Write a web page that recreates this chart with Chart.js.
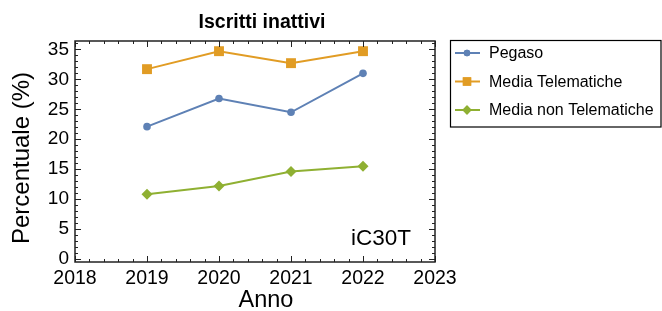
<!DOCTYPE html>
<html>
<head>
<meta charset="utf-8">
<script src="https://cdn.jsdelivr.net/npm/chart.js@4.4.0/dist/chart.umd.min.js"></script>
<style>
  html, body { margin: 0; padding: 0; background: #fff; }
  #wrap { width: 662px; height: 311px; }
</style>
</head>
<body>
<div id="wrap"><canvas id="chart" width="662" height="311"></canvas></div>
<script>
// data
const years = [2019, 2020, 2021, 2022];
const pegaso = [22.1, 26.8, 24.5, 31.0];
const mediaTelematiche = [31.7, 34.7, 32.7, 34.7];
const mediaNonTelematiche = [10.8, 12.2, 14.6, 15.5];
const xTicks = [2018, 2019, 2020, 2021, 2022, 2023];
const yTicks = [0, 5, 10, 15, 20, 25, 30, 35];

const FONT = "'Liberation Sans', Arial, sans-serif";

function points(vals) {
    return years.map((y, i) => ({ x: y, y: vals[i] }));
}

// frame with inward ticks, titles, legend box
const framePlugin = {
    id: 'frame',
    afterDraw(chart) {
        const ctx = chart.ctx;
        const a = chart.chartArea;
        const xs = chart.scales.x, ys = chart.scales.y;
        ctx.save();
        ctx.strokeStyle = '#222';
        ctx.lineWidth = 1;

        // minor + major ticks on x (top and bottom)
        for (let v = 2018; v <= 2023.001; v += 0.2) {
            const px = Math.round(xs.getPixelForValue(v)) + 0.5;
            const major = Math.abs(v - Math.round(v)) < 0.01;
            const len = major ? 6 : 3;
            ctx.beginPath();
            ctx.moveTo(px, a.bottom); ctx.lineTo(px, a.bottom - len);
            ctx.moveTo(px, a.top); ctx.lineTo(px, a.top + len);
            ctx.stroke();
        }
        // minor + major ticks on y (left and right)
        for (let v = 0; v <= 36; v += 1) {
            const py = Math.round(ys.getPixelForValue(v)) + 0.5;
            const major = v % 5 === 0;
            const len = major ? 6 : 3;
            ctx.beginPath();
            ctx.moveTo(a.left, py); ctx.lineTo(a.left + len, py);
            ctx.moveTo(a.right, py); ctx.lineTo(a.right - len, py);
            ctx.stroke();
        }
        // frame
        ctx.lineWidth = 1.5;
        ctx.strokeRect(a.left, a.top, a.right - a.left, a.bottom - a.top);

        // texts
        ctx.fillStyle = '#000';
        ctx.textAlign = 'center';
        ctx.textBaseline = 'middle';
        ctx.font = 'bold 19.5px ' + FONT;
        ctx.fillText('Iscritti inattivi', 262, 23);

        ctx.font = '23.5px ' + FONT;
        ctx.fillText('Anno', 266, 301);

        ctx.save();
        ctx.translate(22, 158);
        ctx.rotate(-Math.PI / 2);
        ctx.font = '24px ' + FONT;
        ctx.fillText('Percentuale (%)', 0, 0);
        ctx.restore();

        ctx.textAlign = 'right';
        ctx.font = '22.5px ' + FONT;
        ctx.fillText('iC30T', 411, 239);

        // legend
        ctx.lineWidth = 1.2;
        ctx.strokeStyle = '#000';
        ctx.strokeRect(450.5, 40.5, 210.5, 86.5);
        ctx.textAlign = 'left';
        ctx.font = '16px ' + FONT;
        chart.data.datasets.forEach((ds, i) => {
            const cy = 53 + i * 28.5;
            ctx.strokeStyle = ds.borderColor;
            ctx.lineWidth = 2;
            ctx.beginPath();
            ctx.moveTo(455, cy); ctx.lineTo(480, cy);
            ctx.stroke();
            ctx.fillStyle = ds.backgroundColor;
            const r = ds.pointRadius * 0.85;
            Chart.helpers.drawPoint(ctx, { pointStyle: ds.pointStyle, radius: r, borderWidth: 0 }, 467, cy);
            ctx.fill();
            ctx.fillStyle = '#000';
            ctx.fillText(ds.label, 489, cy + 1);
        });
        ctx.restore();
    }
};

new Chart(document.getElementById('chart'), {
    type: 'scatter',
    data: {
        datasets: [
            {
                label: 'Pegaso',
                data: points(pegaso),
                borderColor: '#5E81B5',
                backgroundColor: '#5E81B5',
                pointStyle: 'circle',
                pointRadius: 3.8
            },
            {
                label: 'Media Telematiche',
                data: points(mediaTelematiche),
                borderColor: '#E19C24',
                backgroundColor: '#E19C24',
                pointStyle: 'rect',
                pointRadius: 7
            },
            {
                label: 'Media non Telematiche',
                data: points(mediaNonTelematiche),
                borderColor: '#8FB032',
                backgroundColor: '#8FB032',
                pointStyle: 'rectRot',
                pointRadius: 5.5
            }
        ].map(ds => Object.assign(ds, {
            showLine: true,
            borderWidth: 2,
            pointBorderWidth: 0,
            pointHoverRadius: ds.pointRadius,
            clip: false
        }))
    },
    options: {
        responsive: false,
        animation: false,
        layout: { padding: { top: 41, right: 227, left: 0, bottom: 0 } },
        plugins: {
            legend: { display: false },
            title: { display: false },
            tooltip: { enabled: false }
        },
        scales: {
            x: {
                type: 'linear',
                min: 2018,
                max: 2023,
                afterBuildTicks: s => { s.ticks = xTicks.map(v => ({ value: v })); },
                afterFit: s => { s.height = 49; },
                grid: { display: false, drawTicks: false },
                border: { display: false },
                ticks: {
                    color: '#000',
                    padding: 5,
                    font: { family: FONT, size: 19.5 },
                    callback: v => String(v)
                }
            },
            y: {
                min: -0.5,
                max: 36.4,
                afterBuildTicks: s => { s.ticks = yTicks.map(v => ({ value: v })); },
                afterFit: s => { s.width = 75; },
                grid: { display: false, drawTicks: false },
                border: { display: false },
                ticks: {
                    color: '#000',
                    padding: 6,
                    font: { family: FONT, size: 19 }
                }
            }
        }
    },
    plugins: [framePlugin]
});
</script>
</body>
</html>
